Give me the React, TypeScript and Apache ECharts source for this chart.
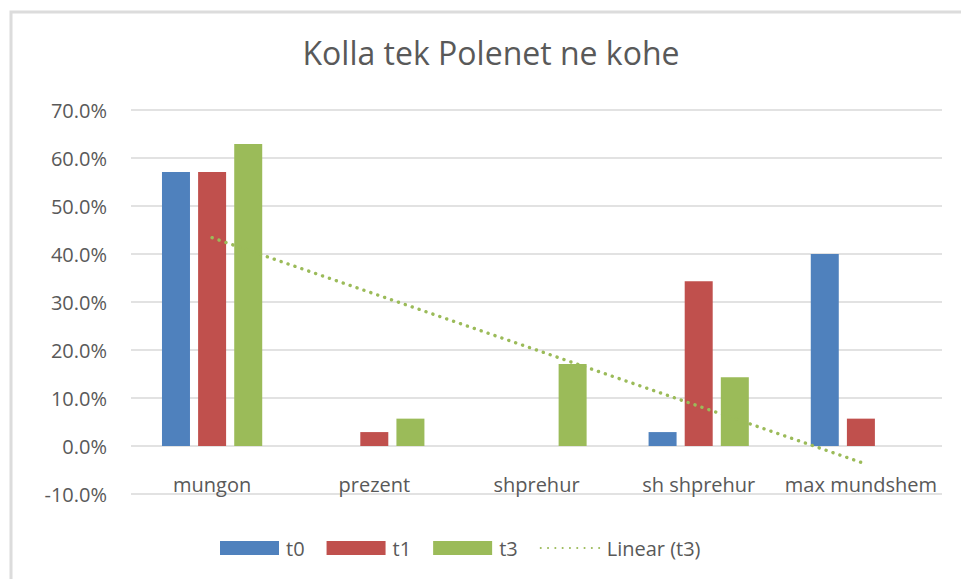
import React, { useEffect, useRef } from "react";
import * as echarts from "echarts";

const TITLE = "Kolla tek Polenet ne kohe";
const categories = ["mungon", "prezent", "shprehur", "sh shprehur", "max mundshem"];
const t0 = [57.1, 0, 0, 2.9, 40.0];
const t1 = [57.1, 2.9, 0, 34.3, 5.7];
const t3 = [62.9, 5.7, 17.1, 14.3, 0];
// Linear trendline of t3 as drawn: start (mungon) and end (max mundshem) values
const trendT3 = [43.4, null, null, null, -3.4];
const yTicks = { min: -10, max: 70, interval: 10 };

const FONT = "'Open Sans', 'Noto Sans', sans-serif";
const TEXT = "#595959";
const GRID = "#d9d9d9";

export default function App() {
  const ref = useRef<HTMLDivElement>(null);
  useEffect(() => {
    if (!ref.current) return;
    const chart = echarts.init(ref.current, null, { renderer: "svg" });
    chart.setOption({
      animation: false,
      backgroundColor: "#ffffff",
      textStyle: { fontFamily: FONT },
      graphic: [
        {
          type: "rect",
          shape: { x: 11, y: 12, width: 1000, height: 1000 },
          style: { fill: "none", stroke: "#dcdcdc", lineWidth: 3 },
          silent: true,
          z: -10,
        },
        {
          type: "text",
          x: 491,
          y: 52,
          style: {
            text: TITLE,
            fontFamily: FONT,
            fontSize: 32,
            fill: TEXT,
            textAlign: "center",
            textVerticalAlign: "middle",
          },
        },
      ],
      legend: {
        left: 220,
        top: 538,
        padding: 0,
        itemWidth: 59,
        itemHeight: 14,
        itemGap: 22,
        textStyle: { color: TEXT, fontSize: 20, fontFamily: FONT, padding: [0, 0, 0, 2] },
        data: [
          { name: "t0", icon: "rect" },
          { name: "t1", icon: "rect" },
          { name: "t3", icon: "rect" },
          { name: "Linear (t3)", itemStyle: { opacity: 0 } },
        ],
      },
      grid: { left: 131, right: 19, top: 110, bottom: 85, containLabel: false },
      xAxis: {
        type: "category",
        data: categories,
        axisLine: { show: false },
        axisTick: { show: false },
        axisLabel: {
          color: TEXT,
          fontSize: 20,
          fontFamily: FONT,
          margin: -20,
          interval: 0,
        },
      },
      yAxis: {
        type: "value",
        min: yTicks.min,
        max: yTicks.max,
        interval: yTicks.interval,
        axisLine: { show: false },
        axisTick: { show: false },
        splitLine: { lineStyle: { color: GRID, width: 1.5 } },
        axisLabel: {
          color: TEXT,
          fontSize: 20,
          fontFamily: FONT,
          margin: 24,
          formatter: (v: number) => `${v.toFixed(1)}%`,
        },
      },
      series: [
        { name: "t0", type: "bar", data: t0, barWidth: 28, barGap: "29%", itemStyle: { color: "#4f81bd" } },
        { name: "t1", type: "bar", data: t1, barWidth: 28, barGap: "29%", itemStyle: { color: "#c0504d" } },
        { name: "t3", type: "bar", data: t3, barWidth: 28, barGap: "29%", itemStyle: { color: "#9bbb59" } },
        {
          name: "Linear (t3)",
          type: "line",
          data: trendT3,
          connectNulls: true,
          symbol: "none",
          itemStyle: { color: "#9bbb59" },
          lineStyle: { color: "#9bbb59", width: 3.4, type: [0.1, 7.2], cap: "round" },
          z: 5,
        },
      ],
    });
    return () => chart.dispose();
  }, []);
  return (
    <div
      ref={ref}
      style={{ position: "fixed", left: 0, top: 0, width: 961, height: 579 }}
    />
  );
}
